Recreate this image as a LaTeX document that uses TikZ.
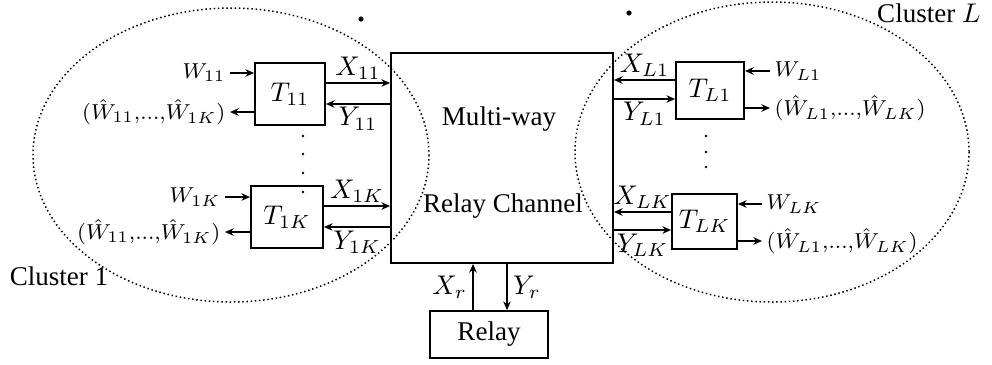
\documentclass[tikz,border=0pt]{standalone}
\usepackage[no-math]{fontspec}
\setmainfont{Liberation Serif}
\usetikzlibrary{arrows.meta}
\tikzset{
  box/.style={draw, line width=0.7pt, inner sep=0pt},
  arr/.style={line width=0.6pt, -{Stealth[length=3.2pt,width=2.8pt]}},
  lbl/.style={inner sep=1.5pt, font=\footnotesize},
  clus/.style={densely dotted, line width=0.55pt},
}
\begin{document}
\begin{tikzpicture}[x=0.37pt,y=-0.37pt]
\useasboundingbox (0,0) rectangle (992,364);
% clusters
\draw[clus] (231,155) ellipse [x radius=198, y radius=147];
\draw[clus] (772,152) ellipse [x radius=197, y radius=150];
\fill (361,19) circle (2.6);
\fill (629,13) circle (2.6);
% main boxes
\node[box, minimum width=222*0.37pt, minimum height=210*0.37pt] (ch) at (502,158) {};
\node[anchor=base] (mw) at (499,125) {Multi-way};
\node[anchor=base] (rc) at (503,212) {Relay Channel};
\node[box, minimum width=118*0.37pt, minimum height=47*0.37pt] (relay) at (489,334.5) {Relay};
% terminals
\node[box, minimum width=70*0.37pt, minimum height=62*0.37pt] (t11) at (290,94) {$T_{11}$};
\node[box, minimum width=72*0.37pt, minimum height=62*0.37pt] (t1k) at (287,217) {$T_{1K}$};
\node[box, minimum width=68*0.37pt, minimum height=57*0.37pt] (tl1) at (710,90.5) {$T_{L1}$};
\node[box, minimum width=65*0.37pt, minimum height=55*0.37pt] (tlk) at (704.5,221.5) {$T_{LK}$};
% vertical dots
\foreach \yy in {136,154,173,192} \fill (303,\yy) circle (1.4);
\foreach \yy in {136,152,167} \fill (706,\yy) circle (1.4);
% cluster labels
\node[anchor=base] (c1) at (59,285) {Cluster 1};
\node[anchor=base east] (cl) at (990,22) {Cluster $L$};
% left cluster, T11
\coordinate (w11) at (230,73);
\coordinate (o11) at (230,112);
\draw[arr] (w11) -- (w11 -| t11.west);
\draw[arr] (o11 -| t11.west) -- (o11);
\node[lbl, anchor=east] at (w11) {$W_{11}$};
\node[lbl, anchor=east] at (o11) {$(\hat{W}_{11},\!...,\!\hat{W}_{1K})$};
\coordinate (x11) at (358,83);
\coordinate (y11) at (358,104);
\draw[arr] (x11 -| t11.east) -- (x11 -| ch.west) node[midway, above, inner sep=1pt] {$X_{11}$};
\draw[arr] (y11 -| ch.west) -- (y11 -| t11.east) node[midway, below, inner sep=1pt] {$Y_{11}$};
% T1K
\coordinate (w1k) at (225,197);
\coordinate (o1k) at (225,232);
\draw[arr] (w1k) -- (w1k -| t1k.west);
\draw[arr] (o1k -| t1k.west) -- (o1k);
\node[lbl, anchor=east] at (w1k) {$W_{1K}$};
\node[lbl, anchor=east] at (o1k) {$(\hat{W}_{11},\!...,\!\hat{W}_{1K})$};
\coordinate (x1k) at (358,206);
\coordinate (y1k) at (358,227);
\draw[arr] (x1k -| t1k.east) -- (x1k -| ch.west) node[midway, above, inner sep=1pt] {$X_{1K}$};
\draw[arr] (y1k -| ch.west) -- (y1k -| t1k.east) node[midway, below, inner sep=1pt] {$Y_{1K}$};
% right cluster, TL1
\coordinate (wl1) at (770,71);
\coordinate (ol1) at (770,108);
\draw[arr] (wl1) -- (wl1 -| tl1.east);
\draw[arr] (ol1 -| tl1.east) -- (ol1);
\node[lbl, anchor=west] at (wl1) {$W_{L1}$};
\node[lbl, anchor=west] at (ol1) {$(\hat{W}_{L1},\!...,\!\hat{W}_{LK})$};
\coordinate (xl1) at (644,80);
\coordinate (yl1) at (644,99);
\draw[arr] (xl1 -| tl1.west) -- (xl1 -| ch.east) node[midway, above, inner sep=1pt] {$X_{L1}$};
\draw[arr] (yl1 -| ch.east) -- (yl1 -| tl1.west) node[midway, below, inner sep=1pt] {$Y_{L1}$};
% TLK
\coordinate (wlk) at (762,204);
\coordinate (olk) at (762,241);
\draw[arr] (wlk) -- (wlk -| tlk.east);
\draw[arr] (olk -| tlk.east) -- (olk);
\node[lbl, anchor=west] at (wlk) {$W_{LK}$};
\node[lbl, anchor=west] at (olk) {$(\hat{W}_{L1},\!...,\!\hat{W}_{LK})$};
\coordinate (xlk) at (640,212);
\coordinate (ylk) at (640,230);
\draw[arr] (xlk -| tlk.west) -- (xlk -| ch.east) node[midway, above, inner sep=1pt] {$X_{LK}$};
\draw[arr] (ylk -| ch.east) -- (ylk -| tlk.west) node[midway, below, inner sep=1pt] {$Y_{LK}$};
% relay links
\coordinate (xr) at (473,300);
\coordinate (yr) at (507,300);
\draw[arr] (xr |- relay.north) -- (xr |- ch.south) node[midway, left, inner sep=2pt] {$X_r$};
\draw[arr] (yr |- ch.south) -- (yr |- relay.north) node[midway, right, inner sep=2pt] {$Y_r$};
\end{tikzpicture}
\end{document}
